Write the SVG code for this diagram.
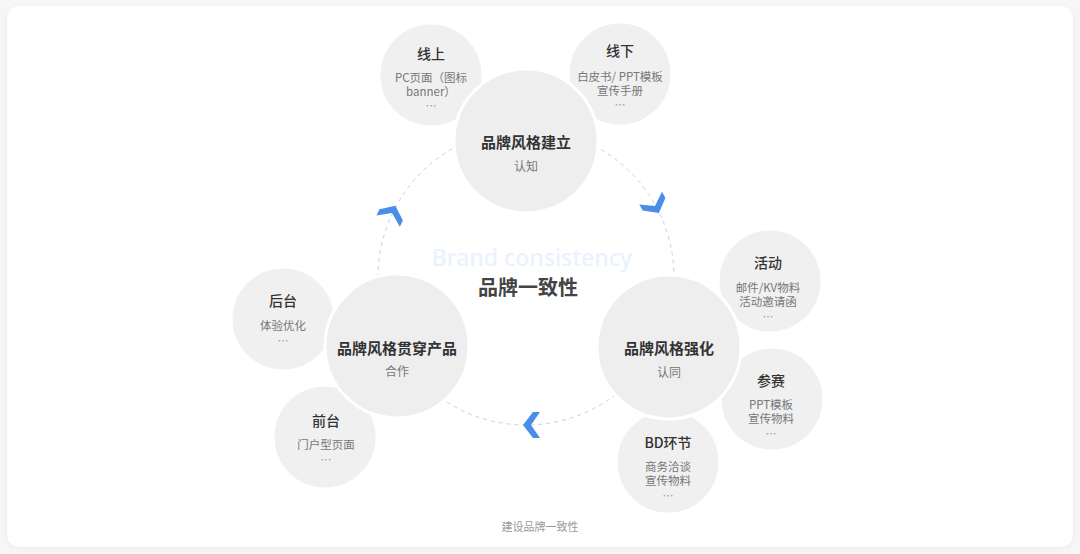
<svg xmlns="http://www.w3.org/2000/svg" width="1080" height="554" viewBox="0 0 1080 554">
<defs>
<style>
text{font-family:"Noto Sans CJK SC","Noto Sans",sans-serif;text-anchor:middle;dominant-baseline:central}
.sc{fill:#f0f0f0;stroke:#fff;stroke-width:3}
.bc{fill:#eeeeee;stroke:#fff;stroke-width:3}
.bt{font-size:15px;font-weight:700;fill:#333}
.bs{font-size:12px;fill:#777}
.st{font-size:14px;font-weight:500;fill:#333}
.ss{font-size:11.5px;fill:#777}
.dot{font-size:11px;fill:#999}
.arr{fill:#4a8ee8}
</style>
<filter id="sh" x="-5%" y="-5%" width="110%" height="110%"><feGaussianBlur stdDeviation="2"/></filter>
<path id="chev" d="M-8,0 L2,-13 L9,-13 L0,0 L9,13 L2,13 Z"/>
</defs>
<rect width="1080" height="554" fill="#f6f6f6"/>
<rect x="7" y="7" width="1066" height="541" rx="12" fill="#e9e9e9" filter="url(#sh)"/>
<rect x="7" y="6" width="1066" height="541" rx="12" fill="#fff"/>
<text x="532" y="257" style="font-family:'Noto Sans',sans-serif;font-size:23px;font-weight:500;fill:#eaf2fd">Brand consistency</text>
<g id="connectors">
<circle cx="526" cy="277" r="148" fill="none" stroke="#c6d1e3" stroke-width="1" stroke-dasharray="4 4"/>
<use href="#chev" class="arr" transform="translate(392,213) rotate(115.5)"/>
<use href="#chev" class="arr" transform="translate(655,206) rotate(-119)"/>
<use href="#chev" class="arr" transform="translate(531,425)"/>
</g>
<g id="n-online"><circle class="sc" cx="431" cy="75" r="52"/><text class="st" x="431" y="53">线上</text><text class="ss" x="431" y="77">PC页面（图标</text><text class="ss" x="431" y="91">banner）</text><text class="dot" x="431" y="105">…</text></g>
<g id="n-offline"><circle class="sc" cx="620" cy="74" r="52"/><text class="st" x="620" y="50">线下</text><text class="ss" x="620" y="76">白皮书/ PPT模板</text><text class="ss" x="620" y="90">宣传手册</text><text class="dot" x="620" y="104">…</text></g>
<g id="n-event"><circle class="sc" cx="770" cy="281" r="52"/><text class="st" x="768" y="262">活动</text><text class="ss" x="768" y="287">邮件/KV物料</text><text class="ss" x="768" y="301">活动邀请函</text><text class="dot" x="768" y="316">…</text></g>
<g id="n-contest"><circle class="sc" cx="772" cy="399" r="52"/><text class="st" x="771" y="380">参赛</text><text class="ss" x="771" y="404">PPT模板</text><text class="ss" x="771" y="418">宣传物料</text><text class="dot" x="771" y="433">…</text></g>
<g id="n-bd"><circle class="sc" cx="668" cy="462" r="52"/><text class="st" x="668" y="442">BD环节</text><text class="ss" x="668" y="466">商务洽谈</text><text class="ss" x="668" y="480">宣传物料</text><text class="dot" x="668" y="495">…</text></g>
<g id="n-backend"><circle class="sc" cx="283" cy="319" r="52"/><text class="st" x="283" y="300">后台</text><text class="ss" x="283" y="325">体验优化</text><text class="dot" x="283" y="340">…</text></g>
<g id="n-frontend"><circle class="sc" cx="325" cy="437" r="52"/><text class="st" x="326" y="420">前台</text><text class="ss" x="326" y="444">门户型页面</text><text class="dot" x="326" y="459">…</text></g>
<g id="n-build"><circle class="bc" cx="526" cy="141" r="72"/><text class="bt" x="526" y="141">品牌风格建立</text><text class="bs" x="526" y="165">认知</text></g>
<g id="n-strengthen"><circle class="bc" cx="669" cy="347" r="72"/><text class="bt" x="669" y="347">品牌风格强化</text><text class="bs" x="669" y="371">认同</text></g>
<g id="n-product"><circle class="bc" cx="397" cy="346" r="72"/><text class="bt" x="397" y="347">品牌风格贯穿产品</text><text class="bs" x="397" y="370">合作</text></g>
<g id="n-center"><text x="528" y="286" style="font-size:20px;font-weight:700;fill:#444">品牌一致性</text></g>
<text x="540" y="526" style="font-size:11px;fill:#999">建设品牌一致性</text>
</svg>
